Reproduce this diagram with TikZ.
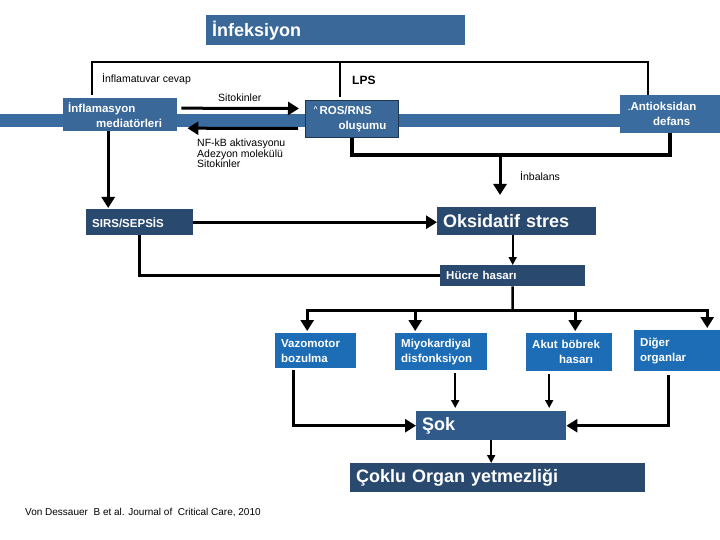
\documentclass[tikz,border=0pt]{standalone}
\usepackage{fontspec}
\setmainfont{Liberation Sans}
\usetikzlibrary{arrows.meta, calc, positioning}

\definecolor{steel}{HTML}{3A6899}
\definecolor{band}{HTML}{3B6CA0}
\definecolor{navy}{HTML}{29496F}
\definecolor{bright}{HTML}{1C6DB6}
\definecolor{sokblue}{HTML}{2F5A8A}
\definecolor{rosedge}{HTML}{1F3550}

\begin{document}
\begin{tikzpicture}[x=1pt, y=-1pt,
    box/.style = {anchor=north west, inner xsep=6pt, inner ysep=0pt, align=left, text=white, font=\bfseries\fontsize{11.5}{15}\selectfont},
    bigbox/.style = {box, font=\bfseries\fontsize{18}{20}\selectfont},
    note/.style = {anchor=west, inner sep=0pt, font=\fontsize{10.5}{10.5}\selectfont},
    line/.style = {line width=2.5pt},
    arr/.style = {line width=3pt, -{Triangle[width=13pt,length=11pt]}},
    thinarr/.style = {line width=1.8pt, -{Triangle[width=8pt,length=8pt]}}]

    \useasboundingbox[fill=white] (0,0) rectangle (720,540);
    \fill[band] (0,114) rectangle (720,127);

    % boxes
    \node[bigbox, fill=steel, text width=247pt, minimum height=30pt] (infeksiyon) at (206,15) {İnfeksiyon};
    \node[box, fill=steel, inner xsep=5pt, text width=104pt, minimum height=33pt] (inflam) at (63,98) {İnflamasyon\\\hspace*{28pt}mediatörleri};
    \node[box, fill=steel, draw=rosedge, line width=1pt, inner xsep=8pt, text width=77pt, minimum height=37pt] (ros) at (305,100) {\raisebox{3pt}{\fontsize{7}{7}\selectfont\textasciicircum}\,ROS/RNS\\\hspace*{25pt}oluşumu};
    \node[box, fill=band, inner xsep=8pt, text width=84pt, minimum height=38pt] (antiox) at (620,95) {\raisebox{-4pt}{\fontsize{7}{7}\selectfont ˇ}Antioksidan\\\hspace*{25pt}defans};
    \node[box, fill=navy, text width=95pt, minimum height=26pt] (sirs) at (86,209) {SIRS/SEPSİS};
    \node[bigbox, fill=navy, text width=147pt, minimum height=28pt] (oksid) at (437,207) {Oksidatif stres};
    \node[box, fill=navy, text width=133pt, minimum height=21pt] (hucre) at (440,265) {Hücre hasarı};
    \node[box, fill=bright, text width=69pt, minimum height=35pt] (vazo) at (275,333) {Vazomotor\\bozulma};
    \node[box, fill=bright, text width=80pt, minimum height=37pt] (miyo) at (395,333) {Miyokardiyal\\disfonksiyon};
    \node[box, fill=bright, text width=74pt, minimum height=38pt] (akut) at (526,333) {Akut böbrek\\\hspace*{27pt}hasarı};
    \node[box, fill=bright, text width=74pt, minimum height=41pt] (diger) at (634,330) {Diğer\\organlar};
    \node[bigbox, fill=sokblue, text width=138pt, minimum height=29pt] (sok) at (416,411) {Şok};
    \node[bigbox, fill=navy, text width=283pt, minimum height=29pt] (coklu) at (350,463) {Çoklu Organ yetmezliği};

    % labels
    \node[note] (cevap) at (102,79) {İnflamatuvar cevap};
    \node[note, font=\bfseries\fontsize{12}{12}\selectfont] (lps) at (352,80) {LPS};
    \node[note] (sitokin) at (218,98) {Sitokinler};
    \node[note, anchor=north west, align=left] (nfkb) at (197,139) {NF-kB aktivasyonu\\Adezyon molekülü\\Sitokinler};
    \node[note] (inbal) at (520,176) {İnbalans};
    \node[note, font=\fontsize{10}{10}\selectfont] (cite) at (25,513) {Von Dessauer~ B et al. Journal of~ Critical Care, 2010};

    % top bracket
    \coordinate (tl) at (92,62);
    \coordinate (tr) at (648,62);
    \coordinate (tm) at (340,62);
    \draw[line, shorten <=3pt] (tl |- inflam.north) -- (tl) -- (tr) -- (tr |- antiox.north);
    \draw[line, shorten >=3pt] (tm) -- (tm |- ros.north);

    % cytokine loop
    \draw[arr, shorten >=6pt] ([xshift=4pt,yshift=6.5pt]inflam.east) -- ([yshift=10.5pt]ros.west);
    \draw[arr] ([xshift=-7pt,yshift=-9.5pt]ros.west) -- ([xshift=10pt,yshift=-13.5pt]inflam.east);

    % imbalance
    \coordinate (imb) at (500,155);
    \draw[line width=4pt] (ros.south) |- (imb) -| (antiox.south);
    \draw[arr, shorten >=12pt] (imb) -- (imb |- oksid.north);

    % sepsis
    \draw[arr, shorten >=1pt] ([xshift=-12pt]inflam.south) -- ([xshift=-31.5pt]sirs.north);
    \draw[arr] (sirs.east) -- (sirs.east -| oksid.west);
    \draw[thinarr] (oksid.south -| hucre.north) -- (hucre.north);
    \draw[line] (sirs.south) |- (hucre.west);

    % organs
    \coordinate (split) at (512.5,310);
    \draw[line] (hucre.south) -- (split);
    \draw[arr, shorten >=2pt] (split) -| ([xshift=-8.5pt]vazo.north);
    \draw[arr, shorten >=2pt] (split) -| ([xshift=-26pt]miyo.north);
    \draw[arr, shorten >=2pt] (split) -| ([xshift=6pt]akut.north);
    \draw[arr, shorten >=2pt] (split) -| ([xshift=30pt]diger.north);

    % shock
    \draw[arr, shorten <=2pt] ([xshift=-22.5pt]vazo.south) |- (sok.west);
    \draw[thinarr, shorten <=3pt, shorten >=3pt] ([xshift=14pt]miyo.south) -- ([xshift=-36pt]sok.north);
    \draw[thinarr, shorten <=3pt, shorten >=3pt] ([xshift=-20pt]akut.south) -- ([xshift=58pt]sok.north);
    \draw[arr, shorten <=4pt] ([xshift=-9pt]diger.south) |- (sok.east);
    \draw[thinarr] (sok.south) -- (sok.south |- coklu.north);
\end{tikzpicture}
\end{document}
